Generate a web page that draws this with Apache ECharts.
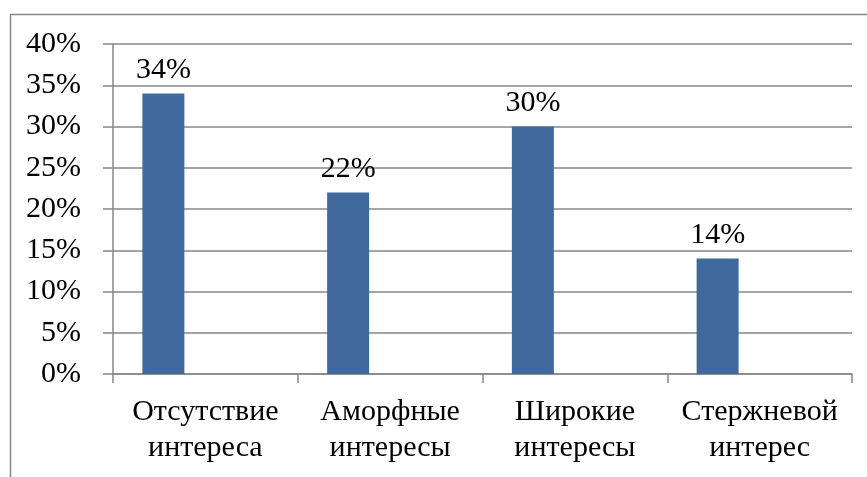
<!DOCTYPE html>
<html>
<head>
<meta charset="utf-8">
<script src="https://cdn.jsdelivr.net/npm/echarts@6/dist/echarts.min.js"></script>
<style>
  html, body { margin: 0; padding: 0; background: #ffffff; }
  #chart { width: 867px; height: 477px; }
</style>
</head>
<body>
<div id="chart"></div>
<script>
// Categories and shares (percent)
const categories = ['Отсутствие\nинтереса', 'Аморфные\nинтересы', 'Широкие\nинтересы', 'Стержневой\nинтерес'];
const shares = [34, 22, 30, 14];
const spacer = [null, null, null, null];
const yTicks = [0, 5, 10, 15, 20, 25, 30, 35, 40];

const font = '"Liberation Serif", "Times New Roman", serif';
const chart = echarts.init(document.getElementById('chart'));

chart.setOption({
  backgroundColor: '#ffffff',
  animation: false,
  graphic: [{
    type: 'rect',
    shape: { x: 10.5, y: 14.5, width: 900, height: 500 },
    style: { fill: 'none', stroke: '#878787', lineWidth: 1.5 },
    silent: true
  }],
  grid: { left: 113, right: 15, top: 44, bottom: 103 },
  xAxis: {
    type: 'category',
    data: categories,
    axisLine: { lineStyle: { color: '#878787', width: 1.5 } },
    axisTick: { show: true, length: 9, lineStyle: { color: '#878787', width: 1.5 } },
    axisLabel: {
      interval: 0, hideOverlap: false, align: 'center',
      color: '#000', fontFamily: font, fontSize: 30, lineHeight: 36, margin: 20
    }
  },
  yAxis: {
    type: 'value',
    min: yTicks[0],
    max: yTicks[yTicks.length - 1],
    interval: 5,
    axisLine: { show: true, lineStyle: { color: '#878787', width: 1.5 } },
    axisTick: { show: true, length: 10, inside: false, lineStyle: { color: '#878787', width: 1.5 } },
    splitLine: { lineStyle: { color: '#878787', width: 1.5 } },
    axisLabel: {
      color: '#000', fontFamily: font, fontSize: 30, margin: 32,
      formatter: v => v + '%'
    }
  },
  series: [{
    type: 'bar',
    data: shares,
    barWidth: 42,
    barGap: '100%',
    itemStyle: { color: '#406A9E' },
    label: {
      show: true, position: 'top', distance: 8,
      color: '#000', fontFamily: font, fontSize: 30,
      formatter: p => p.value + '%'
    }
  }, {
    type: 'bar',
    data: spacer,
    barWidth: 42
  }]
});
</script>
</body>
</html>
